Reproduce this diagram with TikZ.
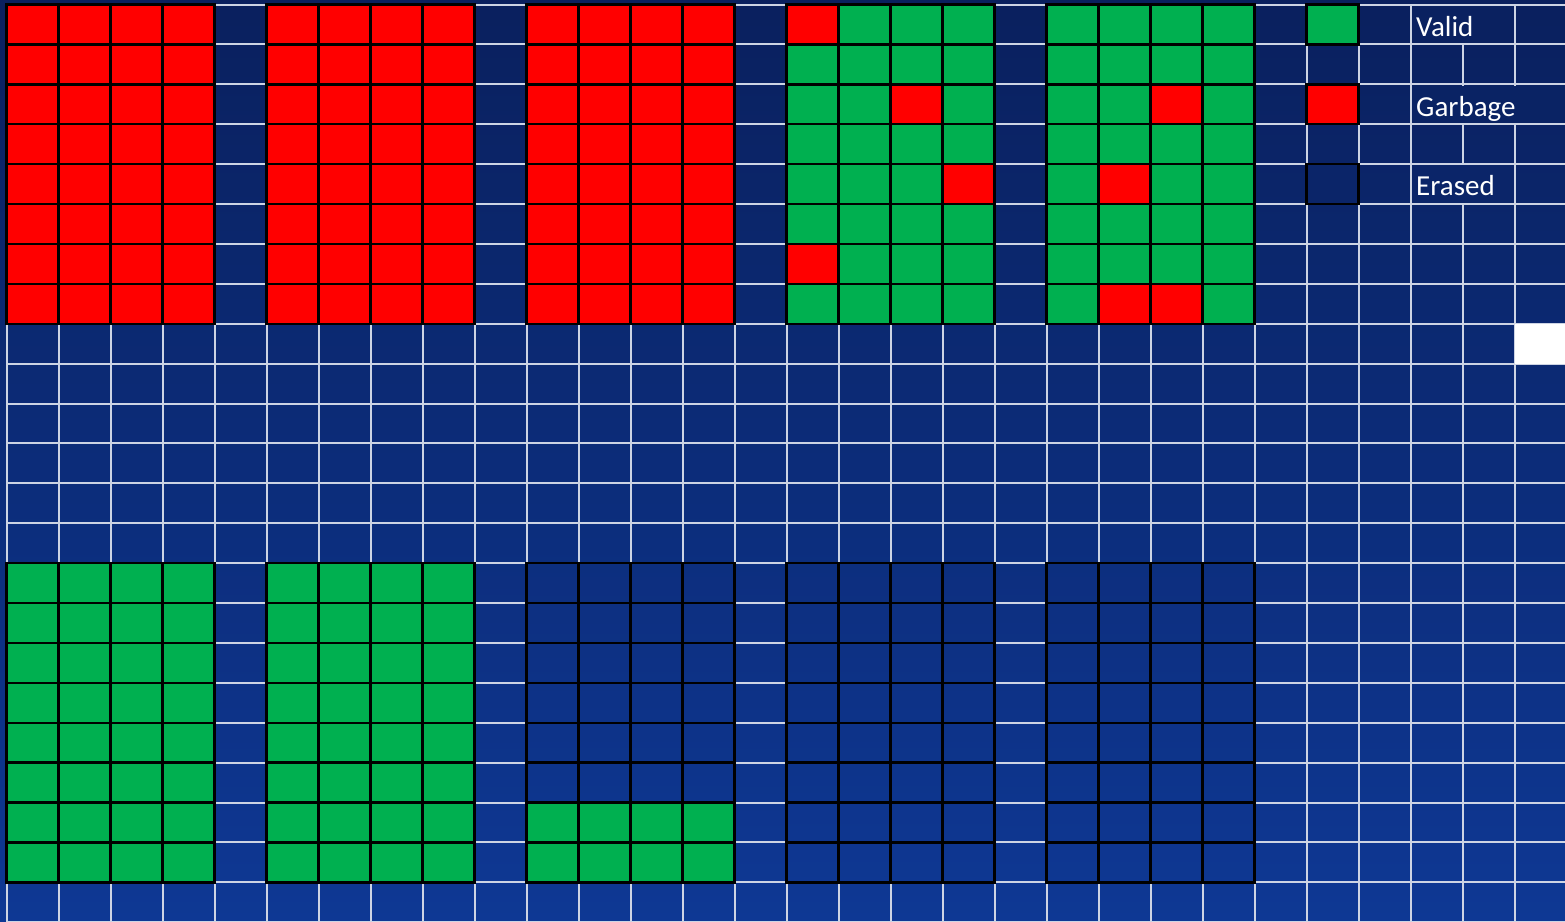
\documentclass[tikz,border=0pt]{standalone}
\usepackage{fontspec}
\setmainfont{Carlito}
\definecolor{bgtop}{RGB}{10,32,94}
\definecolor{bgbot}{RGB}{14,56,148}
\definecolor{gridc}{RGB}{205,212,228}
\definecolor{validc}{RGB}{0,176,80}
\definecolor{garbc}{RGB}{255,0,0}
\tikzset{
  gridline/.style={draw=gridc, line width=2pt},
  blkline/.style={draw=black, line width=2.4pt, line cap=rect},
  lbl/.style={text=white, inner sep=0pt, anchor=base west, font=\fontsize{29}{34}\selectfont},
}
\newcommand{\cx}[1]{6.5+52*(#1)}
\newcommand{\cy}[1]{4.5+39.9*(#1)}
\newcommand{\cel}[3]{\fill[#3] ({\cx{#1}},{\cy{#2}}) rectangle ({\cx{#1+1}},{\cy{#2+1}});}
\newcommand{\blk}[3]{\fill[#3] ({\cx{#1}},{\cy{#2}}) rectangle ({\cx{#1+4}},{\cy{#2+8}});}
\newcommand{\erasedblk}[2]{\shade[top color=bgbot!61!bgtop, bottom color=bgbot!96!bgtop] ({\cx{#1}},{\cy{#2}}) rectangle ({\cx{#1+4}},{\cy{#2+8}});}
\newcommand{\bgrid}[2]{%
  \foreach \k in {0,...,4} {\draw[blkline] ({\cx{#1+\k}},{\cy{#2}}) -- ({\cx{#1+\k}},{\cy{#2+8}});}
  \foreach \k in {0,...,8} {\draw[blkline] ({\cx{#1}},{\cy{#2+\k}}) -- ({\cx{#1+4}},{\cy{#2+\k}});}}
\begin{document}
\begin{tikzpicture}[x=1pt,y=-1pt]
\useasboundingbox (0,0) rectangle (1565,921);
% background
\shade[top color=bgtop, bottom color=bgbot] (0,0) rectangle (1565,921);
% white grid
\foreach \i in {0,...,30} {\draw[gridline] ({\cx{\i}},{\cy{0}}) -- ({\cx{\i}},930);}
\foreach \j in {0,...,23} {\draw[gridline] ({\cx{0}},{\cy{\j}}) -- (1570,{\cy{\j}});}
% white cell
\fill[white] ({\cx{29}},{\cy{8}}) rectangle (1566,{\cy{9}});
% legend label backgrounds
\fill[bgbot!3!bgtop] (1412,6) rectangle ({\cx{29}-1.2},{\cy{1}-1.2});
\fill[bgbot!11!bgtop] (1412,{\cy{2}+1.2}) rectangle (1566,{\cy{3}-1.2});
\fill[bgbot!20!bgtop] (1412,{\cy{4}+1.2}) rectangle ({\cx{29}-1.2},{\cy{5}-1.2});
\node[lbl] (valid) at (1416,36) {Valid};
\node[lbl] (garbage) at (1416,116) {Garbage};
\node[lbl] (erased) at (1416,195.5) {Erased};
% top row blocks
\blk{0}{0}{garbc}
\blk{5}{0}{garbc}
\blk{10}{0}{garbc}
\blk{15}{0}{validc}
\cel{15}{0}{garbc} \cel{17}{2}{garbc} \cel{18}{4}{garbc} \cel{15}{6}{garbc}
\blk{20}{0}{validc}
\cel{22}{2}{garbc} \cel{21}{4}{garbc} \cel{21}{7}{garbc} \cel{22}{7}{garbc}
% bottom row blocks
\blk{0}{14}{validc}
\blk{5}{14}{validc}
\erasedblk{10}{14}
\fill[validc] ({\cx{10}},{\cy{20}}) rectangle ({\cx{14}},{\cy{22}});
\erasedblk{15}{14}
\erasedblk{20}{14}
\foreach \c in {0,5,10,15,20} {\bgrid{\c}{0}\bgrid{\c}{14}}
% legend swatches
\fill[validc] ({\cx{25}},{\cy{0}}) rectangle ({\cx{26}},{\cy{1}});
\fill[garbc] ({\cx{25}},{\cy{2}}) rectangle ({\cx{26}},{\cy{3}});
\fill[bgbot!20!bgtop] ({\cx{25}},{\cy{4}}) rectangle ({\cx{26}},{\cy{5}});
\foreach \r in {0,2,4} {\draw[blkline] ({\cx{25}},{\cy{\r}}) rectangle ({\cx{26}},{\cy{\r+1}});}
\end{tikzpicture}
\end{document}
